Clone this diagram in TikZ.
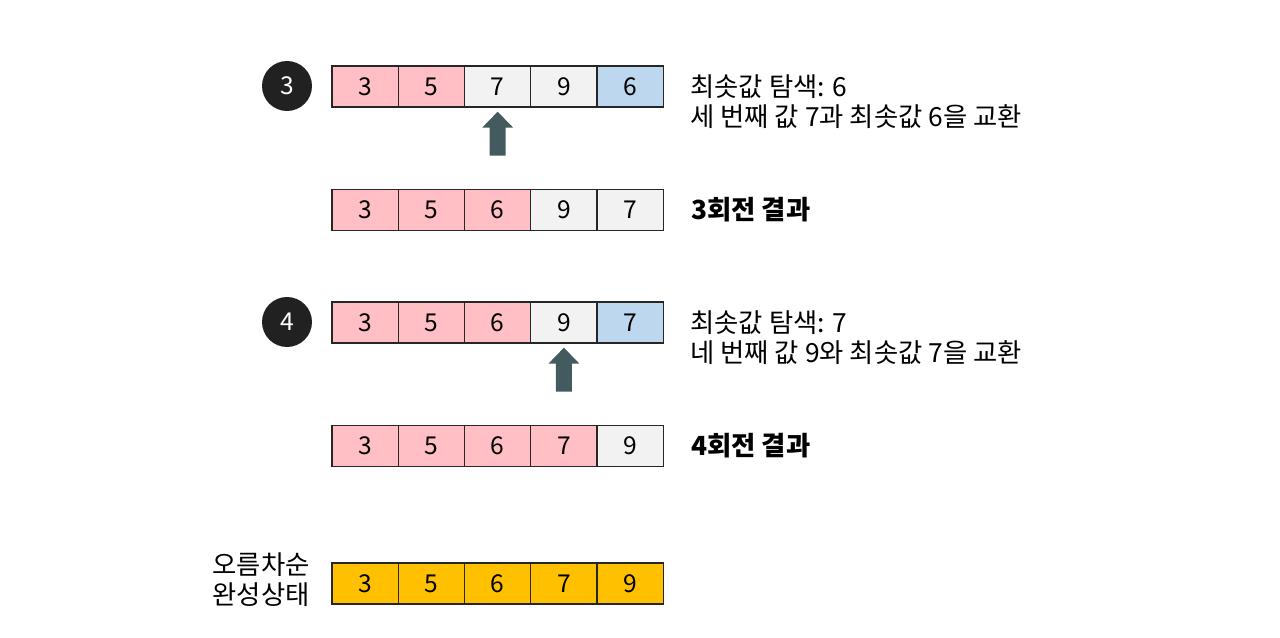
\documentclass[tikz,border=0pt]{standalone}
\usepackage{fontspec}
\setmainfont{Noto Sans CJK KR}
\usetikzlibrary{calc, positioning}

\definecolor{sortedpink}{HTML}{FFBFC4}
\definecolor{opengray}{HTML}{F2F2F2}
\definecolor{minblue}{HTML}{BDD7EE}
\definecolor{donegold}{HTML}{FFC000}
\definecolor{arrowslate}{HTML}{435A5E}

\tikzset{
	cell/.style={draw=black!85, line width=0.8pt, minimum width=1.326cm, minimum height=0.82cm, inner sep=0pt, font=\fontsize{14}{16}\selectfont},
	roundno/.style={circle, fill=black!87, text=white, minimum size=1cm, inner sep=0pt, font=\fontsize{14}{16}\selectfont},
	note/.style={align=left, inner sep=0pt, font=\fontsize{15}{17}\selectfont},
}

\begin{document}
\begin{tikzpicture}[x=0.02cm, y=-0.02cm]
		%page frame in pixels
		\useasboundingbox (0,0) rectangle (1280,638);
		
		%left edge and width of a cell
		\def\xL{332};
		\def\cW{66.26};
		
		%round 3: search
		\node [roundno] (n3) at (287,86) {3};
		\foreach \v/\c [count=\i] in {3/sortedpink, 5/sortedpink, 7/opengray, 9/opengray, 6/minblue}
			\node [cell, fill=\c] (a\i) at ({\xL+\cW*(\i-0.5)},86.5) {\v};
		\node [note, anchor=north west] (t3) at (690,74) {최솟값 탐색: 6\\세 번째 값 7과 최솟값 6을 교환};
		\fill [arrowslate] ($(a3.south)+(0,4)$) -- ++(15.5,16) -- ++(-7.5,0) -- ++(0,28) -- ++(-16,0) -- ++(0,-28) -- ++(-7.5,0) -- cycle;
		
		%round 3: result
		\foreach \v/\c [count=\i] in {3/sortedpink, 5/sortedpink, 6/sortedpink, 9/opengray, 7/opengray}
			\node [cell, fill=\c] (b\i) at ({\xL+\cW*(\i-0.5)},210) {\v};
		\node [note, font=\fontsize{15}{17}\selectfont\bfseries, right=0.54cm of b5] (r3) {3회전 결과};
		
		%round 4: search
		\node [roundno] (n4) at (287,322) {4};
		\foreach \v/\c [count=\i] in {3/sortedpink, 5/sortedpink, 6/sortedpink, 9/opengray, 7/minblue}
			\node [cell, fill=\c] (c\i) at ({\xL+\cW*(\i-0.5)},322.5) {\v};
		\node [note, anchor=north west] (t4) at (690,310) {최솟값 탐색: 7\\네 번째 값 9와 최솟값 7을 교환};
		\fill [arrowslate] ($(c4.south)+(0,4)$) -- ++(15.5,16) -- ++(-7.5,0) -- ++(0,28) -- ++(-16,0) -- ++(0,-28) -- ++(-7.5,0) -- cycle;
		
		%round 4: result
		\foreach \v/\c [count=\i] in {3/sortedpink, 5/sortedpink, 6/sortedpink, 7/sortedpink, 9/opengray}
			\node [cell, fill=\c] (d\i) at ({\xL+\cW*(\i-0.5)},446) {\v};
		\node [note, font=\fontsize{15}{17}\selectfont\bfseries, right=0.54cm of d5] (r4) {4회전 결과};
		
		%sorted
		\foreach \v [count=\i] in {3,5,6,7,9}
			\node [cell, fill=donegold] (e\i) at ({\xL+\cW*(\i-0.5)},583.5) {\v};
		\node [note, align=right, anchor=east] (done) at (310,580) {오름차순\\완성상태};
	\end{tikzpicture}
\end{document}
